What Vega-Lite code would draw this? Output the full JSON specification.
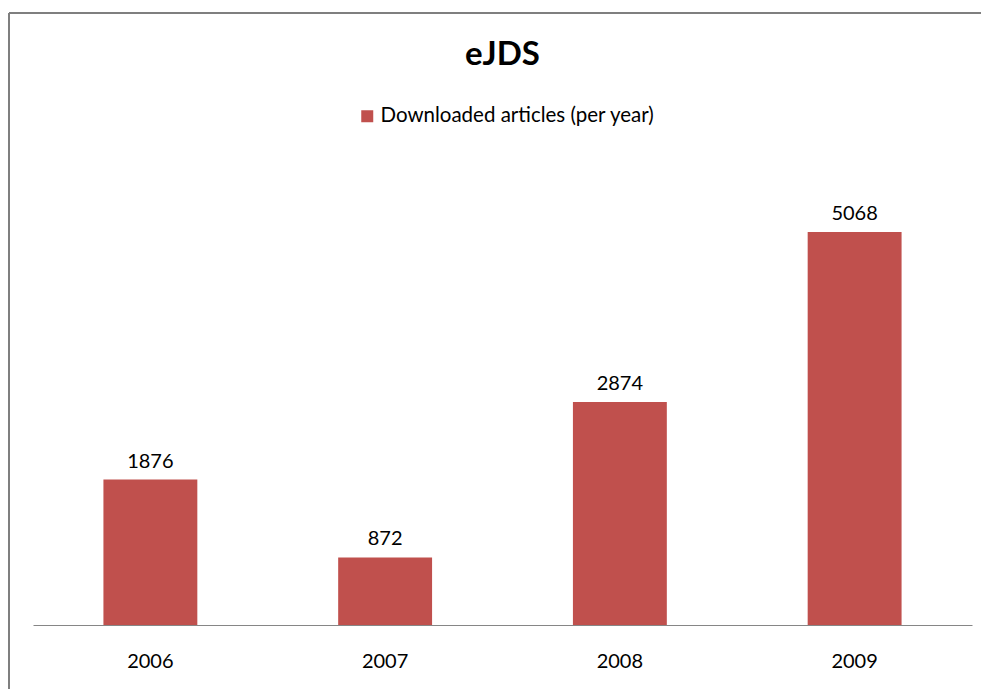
{
  "$schema": "https://vega.github.io/schema/vega-lite/v6.json",
  "autosize": {"type": "none"},
  "padding": {"left": 9, "top": 13, "right": 0, "bottom": 0},
  "width": 972,
  "height": 676,
  "background": "white",
  "config": {
    "view": {"stroke": "#7f7f7f", "strokeWidth": 2, "strokeDash": [972, 1648, 676, 0]},
    "font": "Lato"
  },
  "title": {
    "text": "eJDS",
    "font": "Lato",
    "fontSize": 33,
    "fontWeight": "bold",
    "color": "#000000",
    "anchor": "start",
    "frame": "group",
    "orient": "top",
    "baseline": "alphabetic",
    "offset": -54,
    "dx": 456,
    "dy": 31
  },
  "data": {
    "values": [
      {"year": "2006", "downloads": 1876, "series": "Downloaded articles (per year)"},
      {"year": "2007", "downloads": 872, "series": "Downloaded articles (per year)"},
      {"year": "2008", "downloads": 2874, "series": "Downloaded articles (per year)"},
      {"year": "2009", "downloads": 5068, "series": "Downloaded articles (per year)"}
    ]
  },
  "encoding": {
    "x": {
      "field": "year",
      "type": "ordinal",
      "scale": {"range": [24, 963], "paddingInner": 0.6, "paddingOuter": 0.3},
      "axis": {
        "title": null,
        "orient": "bottom",
        "offset": -64,
        "ticks": false,
        "tickSize": 0,
        "domainColor": "#868686",
        "domainWidth": 1,
        "labelFontSize": 20,
        "labelFont": "Lato",
        "labelColor": "#000000",
        "labelBaseline": "alphabetic",
        "labelPadding": 42,
        "labelAngle": 0
      }
    },
    "y": {
      "field": "downloads",
      "type": "quantitative",
      "scale": {"domain": [0, 6000], "range": [612, 146.7], "nice": false, "zero": true},
      "axis": null
    }
  },
  "layer": [
    {
      "mark": {"type": "bar", "cornerRadius": 0},
      "encoding": {
        "color": {
          "field": "series",
          "type": "nominal",
          "scale": {"range": ["#C0504D"]},
          "legend": {
            "title": null,
            "orient": "none",
            "legendX": 348,
            "legendY": 93,
            "symbolType": "square",
            "symbolSize": 144,
            "symbolStrokeWidth": 0,
            "labelFontSize": 20.5,
            "labelFont": "Lato",
            "labelColor": "#000000",
            "labelOffset": 3,
            "labelLimit": 0,
            "padding": 0
          }
        }
      }
    },
    {
      "mark": {"type": "text", "baseline": "alphabetic", "dy": -12, "fontSize": 20, "font": "Lato", "color": "#000000"},
      "encoding": {
        "text": {"field": "downloads", "type": "quantitative", "format": "d"}
      }
    }
  ]
}
